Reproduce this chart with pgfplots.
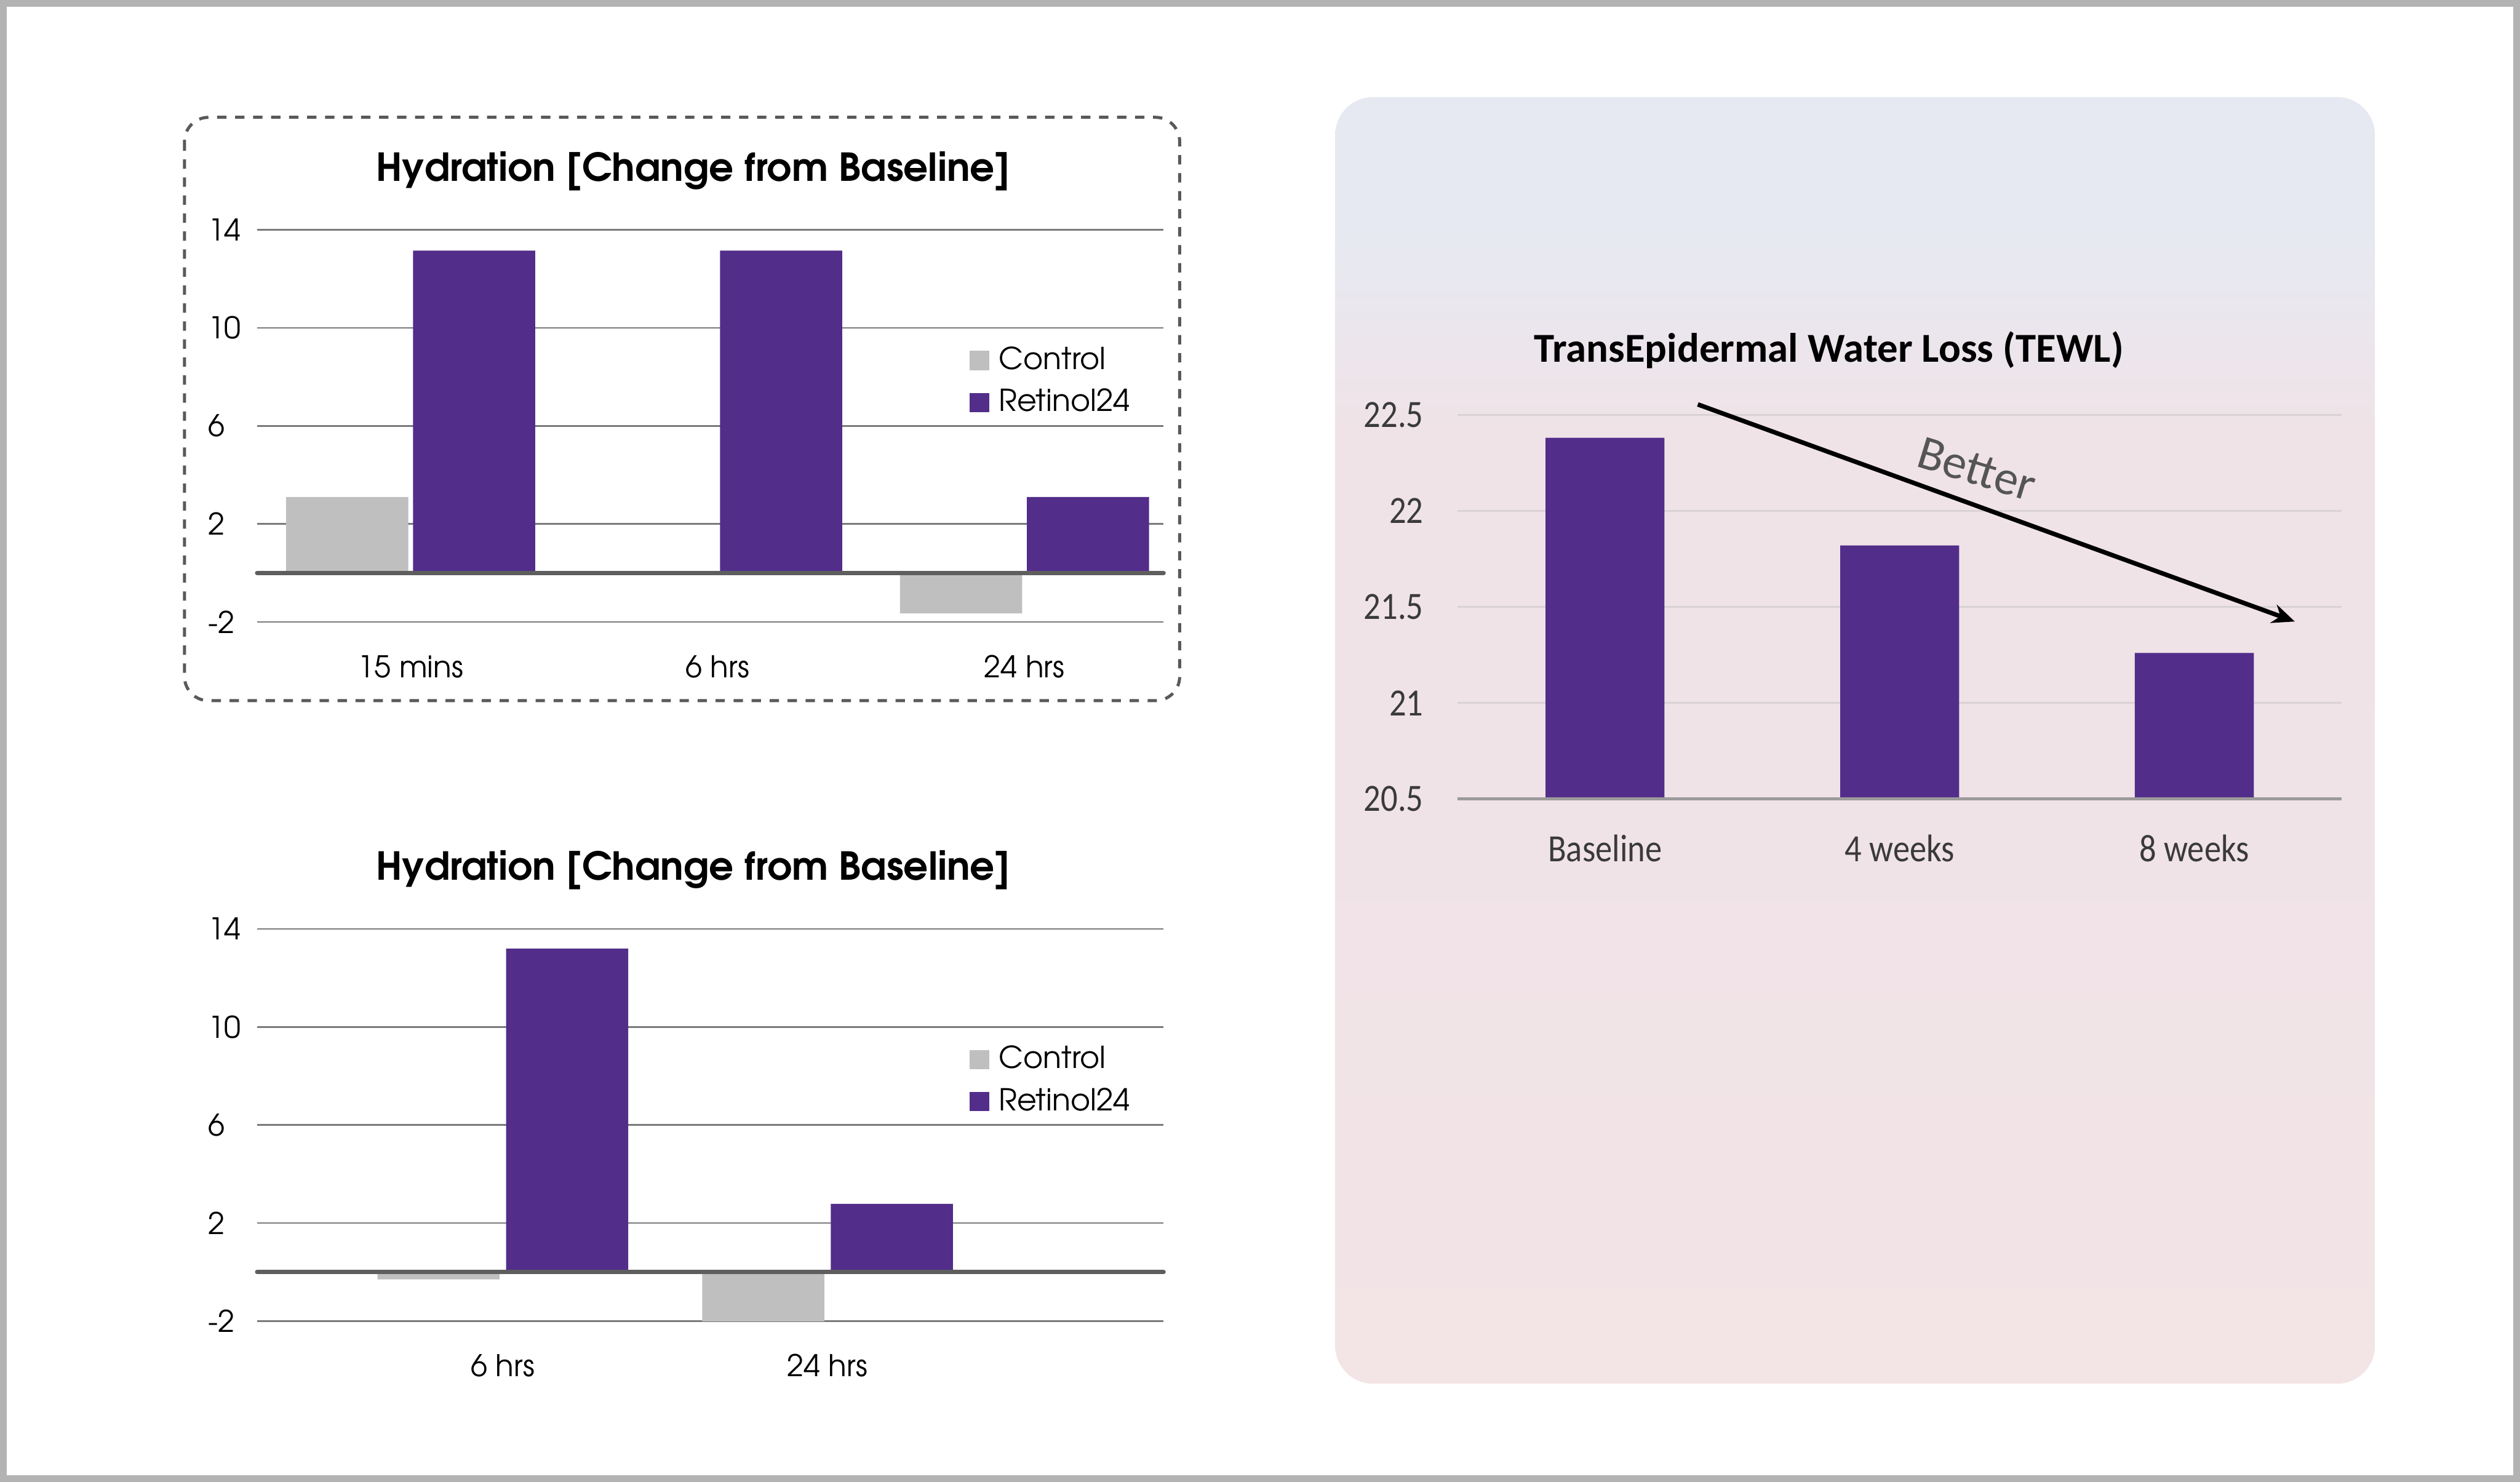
\documentclass[border=0pt]{standalone}
\usepackage{pgfplots}
\pgfplotsset{compat=1.18}
\usepackage{fontspec}
\usetikzlibrary{arrows.meta}
\newfontfamily\gothic{TeX Gyre Adventor}
\newfontfamily\calib{Carlito}
\newfontfamily\calibn[FakeStretch=0.87]{Carlito}

\definecolor{ctrl}{HTML}{BFBFBF}
\definecolor{ret}{HTML}{522D8A}
\definecolor{gridg}{HTML}{7A7A7A}
\definecolor{zerog}{HTML}{5E5E5E}
\definecolor{frameg}{HTML}{B3B3B3}
\definecolor{dashg}{HTML}{595959}
\definecolor{ptop}{HTML}{E6E9F1}
\definecolor{pmid2}{HTML}{EBE6ED}
\definecolor{pmid}{HTML}{EFE3E7}
\definecolor{pbot}{HTML}{F3E4E6}
\definecolor{rgrid}{HTML}{D9D2D5}
\definecolor{raxis}{HTML}{9E9A9C}
\definecolor{rtick}{HTML}{3A3A3A}
\definecolor{betterc}{HTML}{555555}

\pgfdeclareverticalshading{panelshade}{100bp}{color(0bp)=(pbot); color(25bp)=(pbot); color(55bp)=(pmid); color(62bp)=(pmid); color(66bp)=(pmid2); color(70bp)=(ptop); color(100bp)=(ptop)}

\pgfplotsset{
  hyd/.style={
    scale only axis, width=282pt, height=122pt,
    ymin=-2, ymax=14, ytick={-2,2,6,10,14},
    ymajorgrids, grid style={line width=0.5pt, gridg},
    axis line style={draw=none}, major tick length=0pt,
    ybar=1.5pt, bar width=38pt,
    clip mode=individual,
    /pgf/number format/assume math mode=true,
    tick label style={font=\gothic\fontsize{9.3}{11}\selectfont, text=black},
    yticklabel style={anchor=west, inner sep=0pt, xshift=-15.5pt},
    xticklabel style={anchor=base, inner sep=0pt, yshift=-17.25pt},
    title style={at={(axis description cs:0.481,1.1246)}, anchor=base, inner sep=0pt, yshift=-6pt, font=\gothic\bfseries\fontsize{12}{14}\selectfont},
    legend style={at={(axis description cs:0.7855,0.72)}, anchor=north west, draw=none, fill=none, inner sep=0pt,
      font=\gothic\fontsize{9.4}{11}\selectfont, row sep=0.5pt,
      /tikz/every odd column/.append style={column sep=1pt}},
    legend cell align=left,
  }
}

\begin{document}
\begin{tikzpicture}
\useasboundingbox (0pt,0pt) rectangle (784pt,-461pt);
% outer frame
\draw[line width=2.1pt, frameg] (1.05pt,-1.05pt) rectangle (782.95pt,-459.95pt);
% dashed box
\draw[line width=0.95pt, dashg, dash pattern=on 2.9pt off 2.7pt, rounded corners=7.5pt] (57.4pt,-36.5pt) rectangle (367pt,-218pt);
% right panel
\shade[shading=panelshade, rounded corners=11.75pt] (415.4pt,-30.2pt) rectangle (738.85pt,-430.5pt);

% top-left chart
\begin{axis}[hyd,
  at={(80pt,-193.5pt)}, anchor=south west,
  xmin=-0.5, xmax=2.453,
  xtick={0,1,2}, xticklabels={15 mins,6 hrs,24 hrs},
  title={Hydration [Change from Baseline]},
]
\addplot[fill=ctrl, draw=none, legend image code/.code={\fill[ctrl] (0pt,-3pt) rectangle (6pt,3pt);}] coordinates {(0,3.1) (1,0) (2,-1.65)};
\addplot[fill=ret, draw=none, legend image code/.code={\fill[ret] (0pt,-3pt) rectangle (6pt,3pt);}] coordinates {(0,13.15) (1,13.15) (2,3.1)};
\legend{Control,Retinol24}
\draw[line width=1.35pt, zerog, line cap=round] (rel axis cs:0,0.125) -- (rel axis cs:1,0.125);
\end{axis}

% bottom-left chart
\begin{axis}[hyd,
  at={(80pt,-411pt)}, anchor=south west,
  xmin=-0.757, xmax=2.035,
  ybar=2pt,
  xtick={0,1}, xticklabels={6 hrs,24 hrs},
  title={Hydration [Change from Baseline]},
]
\addplot[fill=ctrl, draw=none, legend image code/.code={\fill[ctrl] (0pt,-3pt) rectangle (6pt,3pt);}] coordinates {(0,-0.3) (1,-2.1)};
\addplot[fill=ret, draw=none, legend image code/.code={\fill[ret] (0pt,-3pt) rectangle (6pt,3pt);}] coordinates {(0,13.2) (1,2.78)};
\legend{Control,Retinol24}
\draw[line width=1.35pt, zerog, line cap=round] (rel axis cs:0,0.125) -- (rel axis cs:1,0.125);
\end{axis}

% right chart
\begin{axis}[
  at={(453.5pt,-248.6pt)}, anchor=south west, scale only axis, width=275pt, height=119.55pt,
  xmin=-0.5, xmax=2.5, ymin=20.5, ymax=22.5,
  ytick={20.5,21,21.5,22,22.5}, yticklabels={20.5,21,21.5,22,22.5},
  xtick={0,1,2}, xticklabels={Baseline,4 weeks,8 weeks},
  ymajorgrids, grid style={line width=0.6pt, rgrid},
  axis line style={draw=none}, major tick length=0pt,
  ybar, bar width=37pt, clip mode=individual,
  tick label style={font=\calibn\fontsize{12}{14}\selectfont, text=rtick},
  yticklabel style={anchor=east, inner sep=0pt, xshift=-10.5pt},
  xticklabel style={anchor=base, inner sep=0pt, yshift=-19.4pt},
  title={TransEpidermal Water Loss (TEWL)},
  title style={at={(axis description cs:0.42,1.137)}, anchor=base, inner sep=0pt, yshift=-6pt, font=\calib\bfseries\fontsize{12.8}{14}\selectfont},
]
\addplot[fill=ret, draw=none] coordinates {(0,22.38) (1,21.82) (2,21.26)};
\draw[line width=1pt, raxis] (rel axis cs:0,0) -- (rel axis cs:1,0);
\draw[line width=1.4pt, black, -{Stealth[length=7pt,width=6pt]}] (axis cs:0.315,22.554) -- (axis cs:2.341,21.424);
\node[rotate=-17, font=\calib\fontsize{15}{17}\selectfont, text=betterc, inner sep=0pt] at (axis cs:1.262,22.216) {Better};
\end{axis}
\end{tikzpicture}
\end{document}
